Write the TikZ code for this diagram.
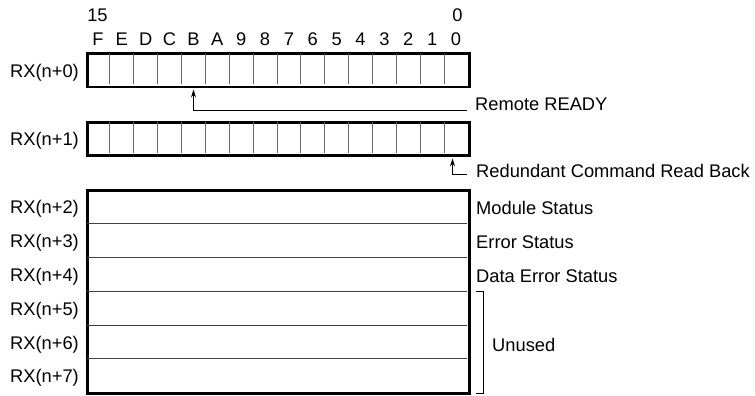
\documentclass[tikz,border=0pt]{standalone}
\usepackage{fontspec}
\setmainfont{Liberation Sans}
\usetikzlibrary{arrows.meta}
\begin{document}
\begin{tikzpicture}[x=1pt,y=-1pt,
  font=\fontsize{18.3}{21}\selectfont,
  reg/.style={draw, line width=2.6pt, minimum width=382pt, anchor=north west, inner sep=0pt},
  cell/.style={draw=black!60, line width=0.9pt},
  rowline/.style={draw=black!75, line width=1pt},
  lbl/.style={anchor=base east, inner sep=0pt},
  rlbl/.style={anchor=base west, inner sep=0pt},
  bitlbl/.style={anchor=base, inner sep=0pt},
  conn/.style={line width=0.8pt, -{Stealth[length=8pt,width=5pt]}}]
\useasboundingbox (0,0) rectangle (755,396);

% bit numbers
\node[bitlbl] (n15) at (97.5,21.7) {15};
\node[bitlbl] (n0) at (457.5,21.7) {0};
\foreach \l [count=\i from 0] in {F,E,D,C,B,A,9,8,7,6,5,4,3,2,1,0}
  \node[bitlbl] (bit\i) at ({86+(\i+0.5)*23.875},45.7) {\l};

% register RX(n+0)
\node[reg, minimum height=33pt] (r0) at (86,52.5) {};
\foreach \i in {1,...,15}
  \draw[cell] ({86+\i*23.875},53.8) -- ({86+\i*23.875},84.2);
\node[lbl] (l0) at (79,77.3) {RX(n+0)};

% register RX(n+1)
\node[reg, minimum height=33pt] (r1) at (86,121) {};
\foreach \i in {1,...,15}
  \draw[cell] ({86+\i*23.875},122.3) -- ({86+\i*23.875},152.7);
\node[lbl] (l1) at (79,145.5) {RX(n+1)};

% words RX(n+2) .. RX(n+7)
\node[reg, minimum height=203pt] (blk) at (86,189) {};
\foreach \y in {223,257,291,325,358}
  \draw[rowline] (87.3,\y) -- (466.7,\y);
\foreach \k/\c in {2/206,3/240,4/274,5/308,6/341.5,7/375}
  \node[lbl] (l\k) at (79,\c+7.8) {RX(n+\k)};

% right-hand labels
\node[rlbl] (ready) at (475,110.5) {Remote READY};
\node[rlbl] (rcrb) at (476,177.5) {Redundant Command Read Back};
\node[rlbl] (mods) at (476,214) {Module Status};
\node[rlbl] (errs) at (476,248) {Error Status};
\node[rlbl] (derrs) at (476,282) {Data Error Status};
\node[rlbl] (unused) at (492,351) {Unused};

% connectors
\coordinate (tipB) at (193.5,89.5);
\coordinate (tip0) at (452.5,158.5);
\draw[conn] ([xshift=-8pt,yshift=0.5pt]ready.base west) -| (tipB);
\draw[conn] ([xshift=-9pt,yshift=3.5pt]rcrb.base west) -| (tip0);

% bracket for unused words
\coordinate (bt) at (476,291);
\coordinate (bb) at (476,393);
\draw[line width=0.9pt] (bt) -- ++(7,0) |- (bb);
\end{tikzpicture}
\end{document}
